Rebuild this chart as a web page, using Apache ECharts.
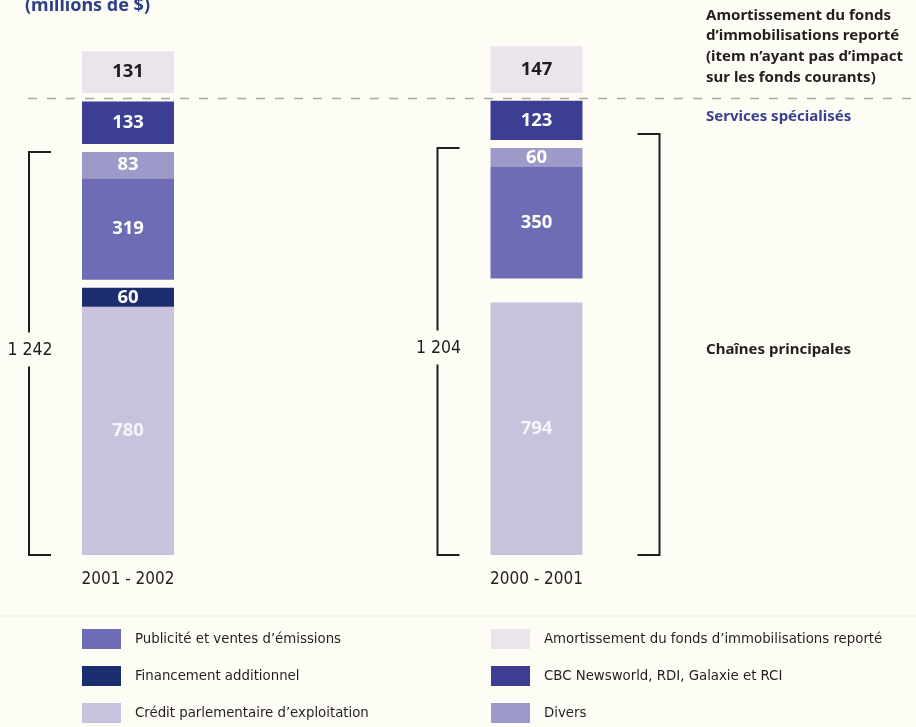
<!DOCTYPE html>
<html>
<head>
<meta charset="utf-8">
<script src="https://cdn.jsdelivr.net/npm/echarts@6/dist/echarts.min.js"></script>
<style>
  html, body { margin: 0; padding: 0; background: #fdfcf5; }
  #chart { width: 916px; height: 727px; }
</style>
</head>
<body>
<div id="chart"></div>
<script>
// Revenus et financement (millions de $)
const categories = ['2001 - 2002', '2000 - 2001'];
const credit = [780, 794];          // Crédit parlementaire d'exploitation
const financement = [60, 0];        // Financement additionnel
const publicite = [319, 350];       // Publicité et ventes d'émissions
const divers = [83, 60];            // Divers
const specialises = [133, 123];     // CBC Newsworld, RDI, Galaxie et RCI
const amortissement = [131, 147];   // Amortissement du fonds d'immobilisations reporté

// Chaînes principales = everything under the specialty services
const chainesTotal = categories.map((c, i) => credit[i] + financement[i] + publicite[i] + divers[i]);

const NAME_PUB = 'Publicité et ventes d’émissions';
const NAME_FIN = 'Financement additionnel';
const NAME_CRED = 'Crédit parlementaire d’exploitation';
const NAME_AMORT = 'Amortissement du fonds d’immobilisations reporté';
const NAME_SPEC = 'CBC Newsworld, RDI, Galaxie et RCI';
const NAME_DIV = 'Divers';

// ---- layout / style ----
const BAR_W = 92;
const DASH_Y = 98.5;           // separator between funded items and amortization
const BOLD = '"Noto Sans", "Open Sans", sans-serif';
const NARROW = '"Liberation Sans Narrow", "DejaVu Sans Condensed", "Noto Sans", sans-serif';

// segments stacked bottom-up, with the pixel spacing left below each one
const stack = [
  { name: NAME_CRED, values: credit,      color: '#c8c2dd', text: '#f7f5fb', gapBelow: [0, 0] },
  { name: NAME_FIN,  values: financement, color: '#1c2d70', text: '#ffffff', gapBelow: [0, 0] },
  { name: NAME_PUB,  values: publicite,   color: '#6d6cb5', text: '#ffffff', gapBelow: [8, 24] },
  { name: NAME_DIV,  values: divers,      color: '#9d9ac9', text: '#ffffff', gapBelow: [0, 0] },
  { name: NAME_SPEC, values: specialises, color: '#3b3e93', text: '#ffffff', gapBelow: [8, 8] }
];

function segBounds(api, cat, k) {
  let base = 0, offset = 0;
  for (let j = 0; j < k; j++) base += stack[j].values[cat];
  for (let j = 0; j <= k; j++) offset += stack[j].gapBelow[cat];
  const bottom = api.coord([cat, base])[1] - offset;
  const h = api.size([0, stack[k].values[cat]])[1];
  return { bottom: bottom, top: bottom - h };
}

function fmt(n) {
  return String(n).replace(/\B(?=(\d{3})+(?!\d))/g, ' ');
}

function segmentSeries(k) {
  const s = stack[k];
  return {
    type: 'custom',
    name: s.name,
    itemStyle: { color: s.color },
    data: s.values.map((v, i) => [i, v]),
    encode: { x: 0, y: 1 },
    renderItem: function (params, api) {
      const cat = api.value(0);
      const v = api.value(1);
      if (!v) return;
      const b = segBounds(api, cat, k);
      const cx = api.coord([cat, 0])[0];
      return {
        type: 'rect',
        shape: { x: cx - BAR_W / 2, y: b.top, width: BAR_W, height: b.bottom - b.top },
        style: { fill: s.color },
        textContent: {
          style: { text: String(v), fill: s.text, fontSize: 18.5, fontWeight: 'bold', fontFamily: BOLD }
        },
        textConfig: { position: 'inside' }
      };
    }
  };
}

const amortSeries = {
  type: 'custom',
  name: NAME_AMORT,
  itemStyle: { color: '#ece4ec' },
  data: amortissement.map((v, i) => [i, v]),
  encode: { x: 0, y: 1 },
  renderItem: function (params, api) {
    const cat = api.value(0);
    const v = api.value(1);
    const cx = api.coord([cat, 0])[0];
    const h = api.size([0, v])[1];
    const bottom = DASH_Y - 5.5;
    return {
      type: 'rect',
      shape: { x: cx - BAR_W / 2, y: bottom - h, width: BAR_W, height: h },
      style: { fill: '#ece4ec' },
      textContent: {
        style: { text: String(v), fill: '#1d1d1f', fontSize: 18.5, fontWeight: 'bold', fontFamily: BOLD }
      },
      textConfig: { position: 'inside' }
    };
  }
};

// brackets grouping the "chaînes principales" block of each bar
const bracketSeries = {
  type: 'custom',
  name: 'brackets',
  silent: true,
  data: chainesTotal.map((v, i) => [i, v]),
  encode: { x: 0, y: 1 },
  renderItem: function (params, api) {
    const cat = api.value(0);
    const total = api.value(1);
    const cx = api.coord([cat, 0])[0];
    const top = segBounds(api, cat, 3).top;
    const bottom = segBounds(api, cat, 0).bottom;
    const x = cx - BAR_W / 2 - 53;
    const mid = (top + bottom) / 2 - 3;
    const line = { stroke: '#1d1d1f', lineWidth: 2, fill: null };
    const children = [
      { type: 'polyline', shape: { points: [[x + 22, top], [x, top], [x, mid - 18]] }, style: line },
      { type: 'polyline', shape: { points: [[x, mid + 16], [x, bottom], [x + 22, bottom]] }, style: line },
      { type: 'text', x: x + 1, y: mid,
        style: { text: fmt(total), fill: '#1d1d1f', fontSize: 17.5, fontFamily: NARROW, align: 'center', verticalAlign: 'middle' } }
    ];
    if (cat === categories.length - 1) {
      const rx = cx + BAR_W / 2 + 77;
      const rTop = segBounds(api, cat, 4).bottom - 6;
      children.push({ type: 'polyline', shape: { points: [[rx - 22, rTop], [rx, rTop], [rx, bottom], [rx - 22, bottom]] }, style: line });
    }
    return { type: 'group', children: children };
  }
};

const legendCommon = {
  orient: 'vertical',
  top: 629,
  icon: 'rect',
  itemWidth: 39,
  itemHeight: 20,
  itemGap: 17,
  padding: 0,
  selectedMode: false,
  textStyle: { fontSize: 14.8, fontFamily: NARROW, color: '#231f20', padding: [0, 0, 0, 9] }
};

const option = {
  backgroundColor: '#fdfcf5',
  animation: false,
  grid: { left: 128, right: 379.5, top: 46, bottom: 172 },
  xAxis: {
    type: 'category',
    data: categories,
    boundaryGap: false,
    axisLine: { show: false },
    axisTick: { show: false },
    axisLabel: { margin: 16, fontSize: 17, fontFamily: NARROW, color: '#231f20' }
  },
  yAxis: { type: 'value', min: 0, max: 1600, show: false },
  legend: [
    Object.assign({ left: 82, data: [NAME_PUB, NAME_FIN, NAME_CRED] }, legendCommon),
    Object.assign({ left: 491, data: [NAME_AMORT, NAME_SPEC, NAME_DIV] }, legendCommon)
  ],
  graphic: [
    { type: 'line', shape: { x1: 28, y1: DASH_Y, x2: 916, y2: DASH_Y },
      style: { stroke: '#a9ab98', lineWidth: 1.6, lineDash: [9, 10] } },
    { type: 'line', shape: { x1: 0, y1: 616, x2: 916, y2: 616 },
      style: { stroke: '#f3efdd', lineWidth: 1 } },
    { type: 'text', x: 25, y: 5.5,
      style: { text: '(millions de $)', fill: '#2d3f88', fontSize: 18, fontWeight: 'bold', fontFamily: BOLD, verticalAlign: 'middle' } },
    { type: 'text', x: 706, y: 5,
      style: { text: 'Amortissement du fonds\nd’immobilisations reporté\n(item n’ayant pas d’impact\nsur les fonds courants)',
               fill: '#231f20', fontSize: 15, fontWeight: 'bold', fontFamily: BOLD, lineHeight: 20.7 } },
    { type: 'text', x: 706, y: 117,
      style: { text: 'Services spécialisés', fill: '#3a4190', fontSize: 15, fontWeight: 'bold', fontFamily: BOLD, verticalAlign: 'middle' } },
    { type: 'text', x: 706, y: 350,
      style: { text: 'Chaînes principales', fill: '#231f20', fontSize: 15, fontWeight: 'bold', fontFamily: BOLD, verticalAlign: 'middle' } }
  ],
  series: [
    segmentSeries(0), segmentSeries(1), segmentSeries(2), segmentSeries(3), segmentSeries(4),
    amortSeries,
    bracketSeries
  ]
};

const chart = echarts.init(document.getElementById('chart'), null, { renderer: 'canvas' });
chart.setOption(option);
</script>
</body>
</html>
